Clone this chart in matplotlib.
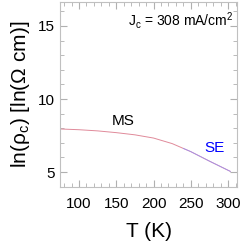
import numpy as np
import matplotlib.pyplot as plt
from matplotlib.ticker import MultipleLocator

plt.rcParams['font.family'] = ['Liberation Sans', 'DejaVu Sans']

# curve
temp = [75, 100, 125, 150, 175, 200, 225, 250, 275, 303]
ln_rho = [7.95, 7.9, 7.82, 7.7, 7.55, 7.33, 6.95, 6.4, 5.75, 5.05]
# SE part (blue overlay)
temp_se = [240, 250, 275, 303]
ln_rho_se = [6.62, 6.4, 5.75, 5.05]

fig = plt.figure(figsize=(2.45, 2.45), dpi=100)
ax = fig.add_axes([60 / 245, 58 / 245, 177 / 245, 185 / 245])

ax.plot(temp, ln_rho, color='#e08a9a', lw=0.7)
ax.plot(temp_se, ln_rho_se, color='#9090ff', lw=0.6, alpha=0.8)

ax.set_xlim(74.5, 312)
ax.set_ylim(3.98, 16.64)
ax.xaxis.set_major_locator(MultipleLocator(50))
ax.xaxis.set_minor_locator(MultipleLocator(10))
ax.yaxis.set_major_locator(MultipleLocator(5))
ax.yaxis.set_minor_locator(MultipleLocator(1))
ax.tick_params(which='both', direction='in', top=True, right=True,
               color='#b0b0b0', labelsize=11, pad=4)
ax.tick_params(axis='x', which='major', pad=7)
ax.tick_params(which='major', length=5)
ax.tick_params(which='minor', length=3)
for s in ax.spines.values():
    s.set_color('#c0c0c0')
    s.set_linewidth(0.8)

ax.set_xlabel('T (K)', fontsize=15, labelpad=8)
ax.set_ylabel(r'ln($\mathregular{\rho_c}$) [ln($\mathregular{\Omega}$ cm)]', fontsize=15, labelpad=4)

ax.text(159, 8.2, 'MS', fontsize=11, ha='center', va='baseline')
ax.text(282, 6.37, 'SE', fontsize=11, ha='center', va='baseline', color='blue')
ax.text(307, 15.0, r'J$\mathregular{_c}$ = 308 mA/cm$\mathregular{^2}$', fontsize=10,
        ha='right', va='baseline')

fig.savefig('out.png', dpi=100)
